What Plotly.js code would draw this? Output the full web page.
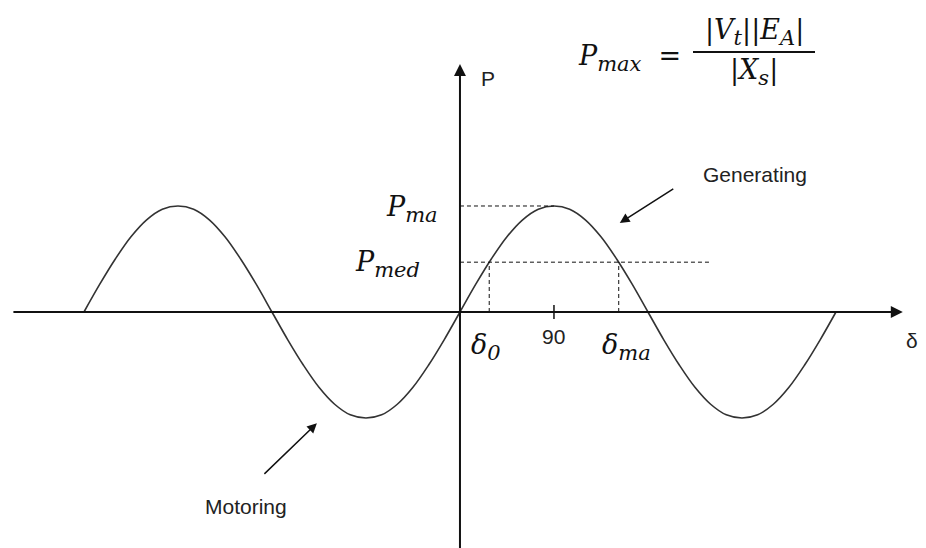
<!DOCTYPE html>
<html lang="en">
<head>
    <meta charset="UTF-8">
    <title>Power angle curve</title>
    <script src="https://cdn.plot.ly/plotly-3.0.1.min.js"></script>
    <style>
        body { margin: 0; padding: 0; background: white; }
        #plot { width: 926px; height: 548px; }
    </style>
</head>
<body>
    <div id="plot"></div>

    <script>
        // torque angle (deg) and power (per unit of Pmax)
        const deltaDeg = [-360, -345, -330, -315, -300, -285, -270, -255, -240, -225, -210, -195,
                          -180, -165, -150, -135, -120, -105, -90, -75, -60, -45, -30, -15,
                          0, 15, 30, 45, 60, 75, 90, 105, 120, 135, 150, 165,
                          180, 195, 210, 225, 240, 255, 270, 285, 300, 315, 330, 345, 360];
        const powerP = [0, 0.26, 0.5, 0.71, 0.87, 0.97, 1, 0.97, 0.87, 0.71, 0.5, 0.26,
                        0, -0.26, -0.5, -0.71, -0.87, -0.97, -1, -0.97, -0.87, -0.71, -0.5, -0.26,
                        0, 0.26, 0.5, 0.71, 0.87, 0.97, 1, 0.97, 0.87, 0.71, 0.5, 0.26,
                        0, -0.26, -0.5, -0.71, -0.87, -0.97, -1, -0.97, -0.87, -0.71, -0.5, -0.26, 0];

        const pMax = 1;
        const pMed = 0.47;
        const delta0 = 28;
        const deltaMa = 152;
        const peakDelta = 90;
        const medLineEnd = 240;
        const tickLabel = '90';

        const mathFont = { family: 'DejaVu Serif', size: 27, color: '#111' };
        const sansFont = { family: 'Liberation Sans, Arial', size: 21, color: '#222' };

        // subscript a bit larger than plotly's default 70%
        const sub = s => '<sub><span style="font-size:21px">' + s + '</span></sub>';

        const curve = {
            x: deltaDeg,
            y: powerP,
            type: 'scatter',
            mode: 'lines',
            line: { color: '#333', width: 1.6, shape: 'spline', smoothing: 1 },
            hoverinfo: 'skip'
        };

        const dashed = { color: '#111', width: 1, dash: '4px,3px' };

        const shapes = [
            // Pma level
            { type: 'line', xref: 'x', yref: 'y', x0: 0, x1: peakDelta, y0: pMax, y1: pMax, line: dashed },
            // Pmed level
            { type: 'line', xref: 'x', yref: 'y', x0: 0, x1: medLineEnd, y0: pMed, y1: pMed, line: dashed },
            // drops to delta0 and deltaMa
            { type: 'line', xref: 'x', yref: 'y', x0: delta0, x1: delta0, y0: 0, y1: pMed, line: dashed },
            { type: 'line', xref: 'x', yref: 'y', x0: deltaMa, x1: deltaMa, y0: 0, y1: pMed, line: dashed },
            // tick at 90
            { type: 'line', xref: 'x', yref: 'y', x0: peakDelta, x1: peakDelta, y0: -0.065, y1: 0.065,
              line: { color: '#111', width: 1.5 } },
            // fraction bar of the formula
            { type: 'line', xref: 'paper', yref: 'paper', x0: 693 / 926, x1: 815 / 926,
              y0: 1 - 52 / 548, y1: 1 - 52 / 548, line: { color: '#111', width: 1.8 } }
        ];

        const axisArrow = { text: '', showarrow: true, arrowhead: 2, arrowsize: 1.2, arrowwidth: 2,
                            arrowcolor: '#111', axref: 'x', ayref: 'y', standoff: 0 };

        const pPaper = (px, py) => ({ xref: 'paper', yref: 'paper', x: px / 926, y: 1 - py / 548,
                                      xanchor: 'center', yanchor: 'middle', showarrow: false, font: mathFont });

        const annotations = [
            // delta axis
            Object.assign({ x: 424, y: 0, ax: -429, ay: 0 }, axisArrow),
            // P axis
            Object.assign({ x: 0, y: 2.34, ax: 0, ay: -2.3 }, axisArrow),
            { x: 27, y: 2.2, text: 'P', showarrow: false, font: sansFont },
            { x: 433, y: -0.27, text: 'δ', showarrow: false, font: sansFont },
            { x: peakDelta, y: -0.23, text: tickLabel, showarrow: false, font: sansFont },

            // math labels
            { x: -19, y: pMax - 0.03, xanchor: 'right', text: '<i>P' + sub('ma') + '</i>', showarrow: false, font: mathFont },
            { x: -36, y: pMed - 0.02, xanchor: 'right', text: '<i>P' + sub('med') + '</i>', showarrow: false, font: mathFont },
            { x: 25, y: -0.33, text: '<i>δ' + sub('0') + '</i>', showarrow: false, font: mathFont },
            { x: 159, y: -0.33, text: '<i>δ' + sub('ma') + '</i>', showarrow: false, font: mathFont },

            // formula
            Object.assign(pPaper(683, 58), { xanchor: 'right', text: '<i>P' + sub('max') + '</i>  =' }),
            Object.assign(pPaper(754, 32), { text: '|<i>V' + sub('t') + '</i>||<i>E' + sub('A') + '</i>|' }),
            Object.assign(pPaper(754, 72), { text: '|<i>X' + sub('s') + '</i>|' }),

            // region callouts
            { x: 153, y: 0.84, ax: 55, ay: -35, text: '', showarrow: true, arrowhead: 2,
              arrowsize: 1.3, arrowwidth: 1.5, arrowcolor: '#111' },
            { x: 282, y: 1.3, text: 'Generating', showarrow: false, font: sansFont },
            { x: -137, y: -1.05, ax: -54, ay: 52, text: '', showarrow: true, arrowhead: 2,
              arrowsize: 1.3, arrowwidth: 1.5, arrowcolor: '#111' },
            { x: -205, y: -1.83, text: 'Motoring', showarrow: false, font: sansFont }
        ];

        const layout = {
            width: 926,
            height: 548,
            margin: { t: 0, r: 0, b: 0, l: 0 },
            paper_bgcolor: 'white',
            plot_bgcolor: 'white',
            showlegend: false,
            xaxis: { range: [-440.4, 446.2], visible: false, fixedrange: true },
            yaxis: { range: [-2.226, 2.943], visible: false, fixedrange: true },
            shapes: shapes,
            annotations: annotations
        };

        Plotly.newPlot('plot', [curve], layout, { displayModeBar: false, staticPlot: true });
    </script>
</body>
</html>
